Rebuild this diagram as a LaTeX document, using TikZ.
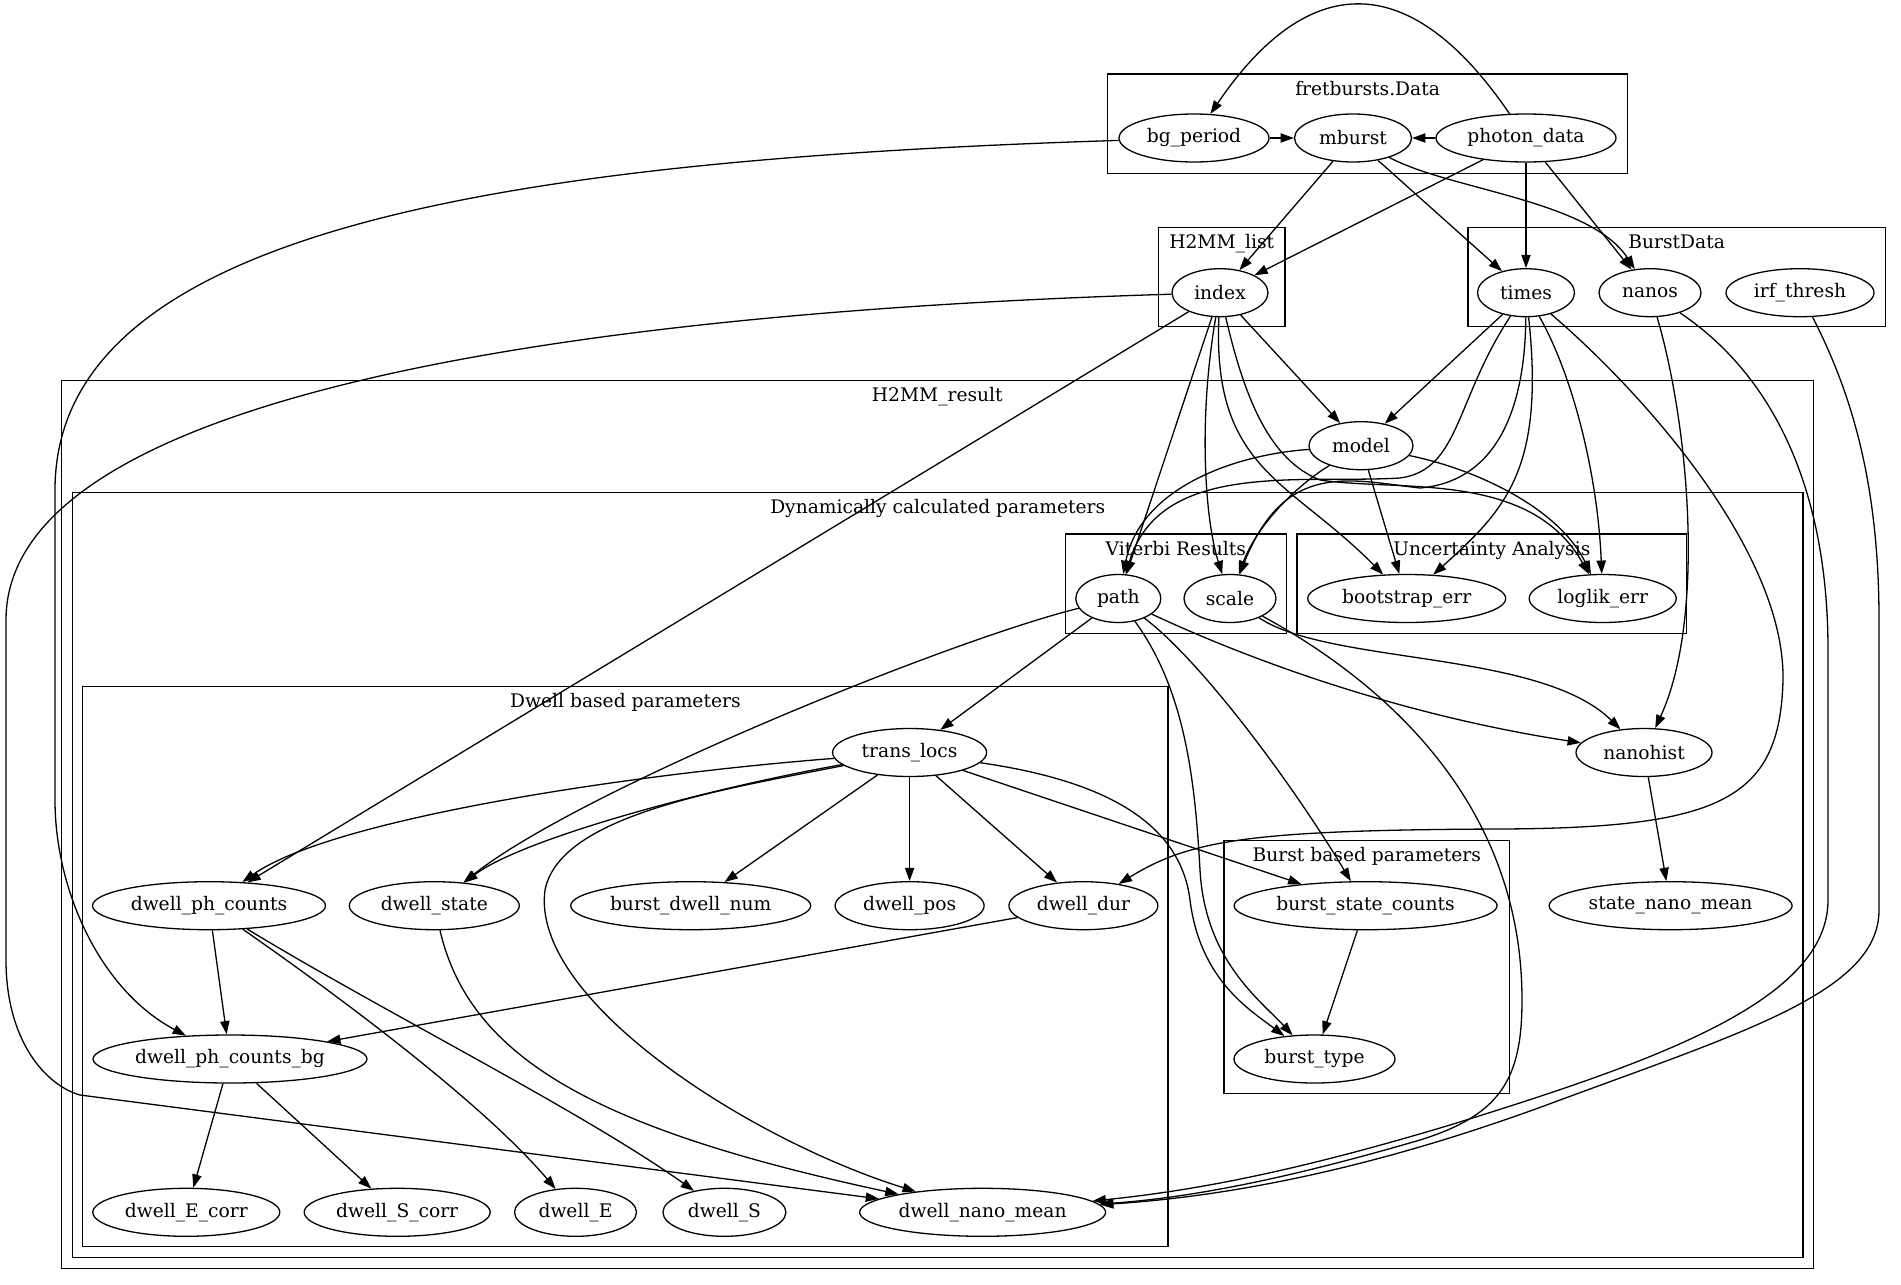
\documentclass[tikz,border=0pt]{standalone}
\usepackage{fontspec}
\setmainfont{DejaVu Serif}
\usetikzlibrary{arrows.meta,shapes.geometric}
\newcommand\gvfont{\fontsize{18.67}{22}\selectfont}
\begin{document}
\begin{tikzpicture}[x=1pt,y=-1pt,
  nd/.style={draw, ellipse, line width=1.3pt, minimum height=48pt, inner sep=0pt, font=\gvfont},
  fr/.style={draw, line width=1.3pt},
  lb/.style={anchor=base, inner sep=0pt, font=\gvfont},
  ed/.style={-{Triangle[length=13.3pt,width=9.3pt]}, line width=1.3pt}]
\useasboundingbox[fill=white] (0,0) rectangle (1901,1285);

% ---------- clusters ----------
\draw[fr] (1107.7,74) rectangle (1627.6,173.3);
\node[lb] (lfret) at (1367.6,95) {fretbursts.Data};
\draw[fr] (1158.5,227.3) rectangle (1285,326.7);
\node[lb] (llist) at (1221.7,248.3) {H2MM\_list};
\draw[fr] (1468,227.3) rectangle (1885.4,326.7);
\node[lb] (lburstdata) at (1676.7,248.3) {BurstData};
\draw[fr] (61.2,380.6) rectangle (1813.5,1268.6);
\node[lb] (lresult) at (937.3,401.6) {H2MM\_result};
\draw[fr] (72.5,492.3) rectangle (1803,1257.3);
\node[lb] (ldyn) at (937.7,513.3) {Dynamically calculated parameters};
\draw[fr] (1065.2,534) rectangle (1286.5,633.7);
\node[lb] (lvit) at (1175.8,555) {Viterbi Results};
\draw[fr] (1297,534) rectangle (1686.7,633.7);
\node[lb] (lunc) at (1491.8,555) {Uncertainty Analysis};
\draw[fr] (82.8,686.7) rectangle (1168,1246.8);
\node[lb] (ldwell) at (625.4,707.7) {Dwell based parameters};
\draw[fr] (1224,840.5) rectangle (1509.7,1093.7);
\node[lb] (lburst) at (1366.8,861.5) {Burst based parameters};

% ---------- nodes ----------
\node[nd, minimum width=150pt] (bgperiod) at (1194,138) {bg\_period};
\node[nd, minimum width=117pt] (mburst) at (1353,138) {mburst};
\node[nd, minimum width=180pt] (photondata) at (1526,138) {photon\_data};
\node[nd, minimum width=96pt] (index) at (1220,292.7) {index};
\node[nd, minimum width=97pt] (times) at (1526,292.7) {times};
\node[nd, minimum width=102pt] (nanos) at (1650,292.7) {nanos};
\node[nd, minimum width=148pt] (irfthresh) at (1800,292.7) {irf\_thresh};
\node[nd, minimum width=104pt] (model) at (1361,445.7) {model};
\node[nd, minimum width=85pt] (path) at (1118.3,598.5) {path};
\node[nd, minimum width=92pt] (scale) at (1230,598.5) {scale};
\node[nd, minimum width=198pt] (bootstraperr) at (1406.7,598.5) {bootstrap\_err};
\node[nd, minimum width=147pt] (loglikerr) at (1602.7,598.5) {loglik\_err};
\node[nd, minimum width=154pt] (translocs) at (909.6,752.5) {trans\_locs};
\node[nd, minimum width=136pt] (nanohist) at (1644,752.5) {nanohist};
\node[nd, minimum width=233pt] (dwellphcounts) at (209,905.7) {dwell\_ph\_counts};
\node[nd, minimum width=170pt] (dwellstate) at (434.3,905.7) {dwell\_state};
\node[nd, minimum width=240pt] (burstdwellnum) at (690.7,905.7) {burst\_dwell\_num};
\node[nd, minimum width=149pt] (dwellpos) at (909.6,905.7) {dwell\_pos};
\node[nd, minimum width=149pt] (dwelldur) at (1083.4,905.7) {dwell\_dur};
\node[nd, minimum width=263pt] (burststatecounts) at (1365.6,905.7) {burst\_state\_counts};
\node[nd, minimum width=243pt] (statenanomean) at (1670.6,905.7) {state\_nano\_mean};
\node[nd, minimum width=274pt] (dwellphcountsbg) at (230,1059) {dwell\_ph\_counts\_bg};
\node[nd, minimum width=161pt] (bursttype) at (1314.5,1059) {burst\_type};
\node[nd, minimum width=187pt] (dwellEcorr) at (186.3,1212.3) {dwell\_E\_corr};
\node[nd, minimum width=186pt] (dwellScorr) at (397.2,1212.3) {dwell\_S\_corr};
\node[nd, minimum width=122pt] (dwellE) at (575.5,1212.3) {dwell\_E};
\node[nd, minimum width=123pt] (dwellS) at (724.4,1212.3) {dwell\_S};
\node[nd, minimum width=246pt] (dwellnanomean) at (982.6,1212.3) {dwell\_nano\_mean};

% ---------- edges ----------
\draw[ed] (photondata) .. controls (1411,-31) and (1309,-31) .. (bgperiod);
\draw[ed] (bgperiod) -- (mburst);
\draw[ed] (photondata) -- (mburst);
\draw[ed] (bgperiod) .. controls (500,160) and (55,230) .. (55,490) -- (55,800) .. controls (55,890) and (100,990) .. (dwellphcountsbg);
\draw[ed] (mburst) -- (index);
\draw[ed] (photondata) -- (index);
\draw[ed] (mburst) -- (times);
\draw[ed] (mburst) .. controls (1450,190) and (1590,200) .. (nanos);
\draw[ed] (photondata) -- (times);
\draw[ed] (photondata) -- (nanos);

\draw[ed] (index) .. controls (650,310) and (6,380) .. (6,620) -- (6,960) .. controls (6,1040) and (45,1085) .. (80,1095) -- (dwellnanomean);
\draw[ed] (index) -- (dwellphcounts);
\draw[ed] (index) -- (path);
\draw[ed] (index) .. controls (1198,420) and (1205,520) .. (scale);
\draw[ed] (index) -- (model);
\draw[ed] (index) .. controls (1212,470) and (1290,480) .. (bootstraperr);
\draw[ed] (index) .. controls (1245,400) and (1270,460) .. (1320,480) .. controls (1400,492) and (1530,470) .. (loglikerr);

\draw[ed] (times) -- (model);
\draw[ed] (times) .. controls (1455,400) and (1460,470) .. (1400,478) .. controls (1300,484) and (1160,460) .. (path);
\draw[ed] (times) .. controls (1525,420) and (1490,482) .. (1420,488) .. controls (1350,480) and (1285,460) .. (scale);
\draw[ed] (times) .. controls (1545,470) and (1505,510) .. (bootstraperr);
\draw[ed] (times) .. controls (1575,380) and (1598,480) .. (loglikerr);
\draw[ed] (times) .. controls (1640,390) and (1785,550) .. (1783,680) .. controls (1780,800) and (1720,828) .. (1500,829) .. controls (1250,830) and (1190,840) .. (dwelldur);

\draw[ed] (nanos) .. controls (1690,430) and (1705,620) .. (nanohist);
\draw[ed] (nanos) .. controls (1780,380) and (1828,500) .. (1828,650) -- (1828,900) .. controls (1828,1000) and (1660,1060) .. (1450,1125) .. controls (1300,1170) and (1200,1190) .. (dwellnanomean);
\draw[ed] (irfthresh) .. controls (1850,390) and (1879,480) .. (1879,620) -- (1879,910) .. controls (1879,990) and (1750,1030) .. (1560,1100) .. controls (1400,1160) and (1250,1195) .. (dwellnanomean);

\draw[ed] (model) .. controls (1230,455) and (1140,490) .. (path);
\draw[ed] (model) .. controls (1290,490) and (1255,530) .. (scale);
\draw[ed] (model) -- (bootstraperr);
\draw[ed] (model) .. controls (1480,470) and (1560,510) .. (loglikerr);

\draw[ed] (path) -- (translocs);
\draw[ed] (path) .. controls (950,640) and (580,790) .. (dwellstate);
\draw[ed] (path) .. controls (1250,660) and (1400,715) .. (nanohist);
\draw[ed] (path) .. controls (1200,660) and (1290,780) .. (burststatecounts);
\draw[ed] (path) .. controls (1185,690) and (1195,780) .. (1200,870) .. controls (1205,960) and (1260,1000) .. (bursttype);

\draw[ed] (scale) .. controls (1330,665) and (1540,650) .. (nanohist);
\draw[ed] (scale) .. controls (1380,680) and (1522,800) .. (1522,1000) .. controls (1522,1080) and (1500,1115) .. (1420,1140) .. controls (1300,1175) and (1200,1197) .. (dwellnanomean);

\draw[ed] (translocs) .. controls (620,775) and (330,820) .. (dwellphcounts);
\draw[ed] (translocs) .. controls (700,790) and (520,840) .. (dwellstate);
\draw[ed] (translocs) -- (burstdwellnum);
\draw[ed] (translocs) -- (dwellpos);
\draw[ed] (translocs) -- (dwelldur);
\draw[ed] (translocs) .. controls (720,790) and (560,815) .. (545,890) .. controls (530,1000) and (750,1140) .. (dwellnanomean);
\draw[ed] (translocs) -- (burststatecounts);
\draw[ed] (translocs) .. controls (1100,780) and (1180,820) .. (1190,900) .. controls (1200,980) and (1250,1010) .. (bursttype);

\draw[ed] (dwellphcounts) -- (dwellphcountsbg);
\draw[ed] (dwellphcounts) .. controls (330,990) and (480,1100) .. (dwellE);
\draw[ed] (dwellphcounts) .. controls (380,1010) and (580,1110) .. (dwellS);
\draw[ed] (dwellstate) .. controls (470,1060) and (600,1130) .. (dwellnanomean);
\draw[ed] (dwelldur) -- (dwellphcountsbg);
\draw[ed] (dwellphcountsbg) -- (dwellEcorr);
\draw[ed] (dwellphcountsbg) -- (dwellScorr);
\draw[ed] (burststatecounts) -- (bursttype);
\draw[ed] (nanohist) -- (statenanomean);
\end{tikzpicture}
\end{document}
